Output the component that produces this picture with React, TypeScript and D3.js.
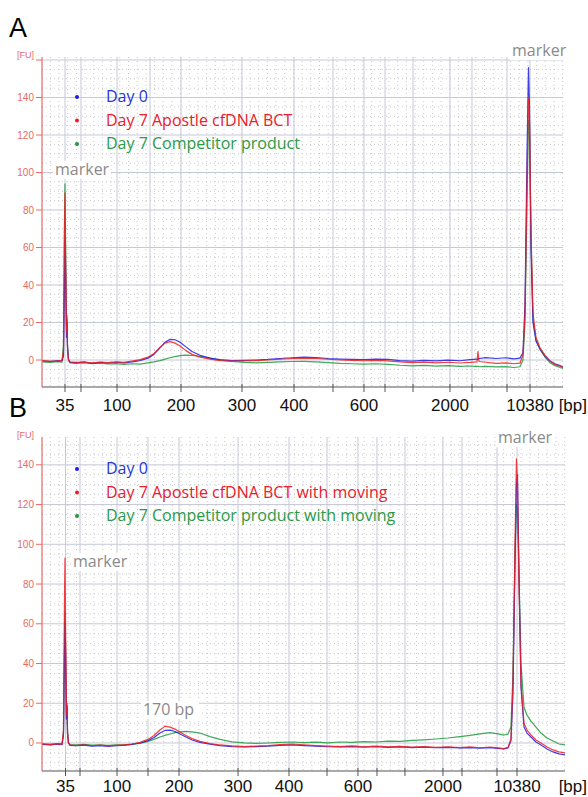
import React from "react";
import * as d3 from "d3";

// ladder sizes in bp and the migration time (s) each one ran at, per panel
const ladderBp = [35, 50, 100, 150, 200, 300, 400, 500, 600, 700, 1000, 2000, 3000, 7000, 10380];
const labeledBp = [35, 100, 200, 300, 400, 600, 2000, 10380];
const ladderTimeA = [43.31, 45.61, 50.8, 55.55, 60.01, 68.79, 76.28, 81.89, 86.35, 89.38, 93.41, 98.73, 101.9, 106.94, 110.25];
const ladderTimeB = [43.37, 45.45, 50.76, 55.2, 59.65, 68.11, 75.42, 80.87, 85.31, 88.04, 92.05, 97.5, 100.23, 105.25, 108.12];
const fuTicks = [0, 20, 40, 60, 80, 100, 120, 140, 160];

// panel A traces (time s, fluorescence FU)
const timeA = [
  40.0, 41.15, 42.3, 42.88, 43.09, 43.24, 43.31, 43.38, 43.53, 43.6, 43.67, 43.81, 44.03, 44.89, 46.05, 47.2,
  48.35, 49.5, 50.65, 51.8, 52.95, 54.11, 55.26, 56.12, 56.99, 57.71, 58.43, 59.15, 59.87, 60.73, 61.59, 62.74,
  64.18, 65.62, 67.35, 69.08, 70.81, 72.53, 74.26, 75.99, 77.72, 79.44, 81.17, 82.9, 84.62, 86.35, 88.08, 89.81,
  91.54, 93.26, 94.99, 96.72, 98.45, 100.17, 101.61, 102.62, 102.76, 102.91, 103.91, 105.35, 106.79, 107.94, 108.81,
  109.24, 109.53, 109.82, 110.03, 110.18, 110.39, 110.68, 111.11, 111.69, 112.41, 113.13, 113.85, 114.57, 115.0
];
const day0A = [
  -0.5, -0.8, -0.3, -0.5, 2, 40, 64, 50, 12, 20, 8, 0.5, -1.2, -1.5, -1.0, -1.8,
  -1.3, -1.6, -1.2, -1.5, -1.0, -0.3, 1.0, 3.0, 6.5, 9.5, 11.0, 10.8, 9.5, 7.0, 4.5, 2.5,
  1.0, 0.2, -0.3, -0.2, 0.0, 0.3, 0.8, 1.2, 1.5, 1.3, 0.8, 0.5, 0.3, 0.2, 0.5, 0.3,
  -0.3, -0.6, -0.2, -0.5, -0.1, -0.4, 0.2, 0.5, 0.3, 0.8, 1.3, 0.8, 1.2, 0.6, 1.0,
  4, 30, 110, 156, 135, 60, 20, 10, 6, 2, -0.5, -2.0, -3.0, -3.8
];
const apostleA = [
  -0.3, -0.6, -0.5, -0.2, 5, 70, 89, 60, 15, 22, 6, 0, -1.0, -1.3, -1.2, -1.5,
  -1.1, -1.4, -1.0, -1.3, -0.6, 0.2, 1.5, 3.5, 6.8, 9.0, 9.8, 9.0, 7.5, 5.0, 3.0, 1.5,
  0.5, -0.3, -0.6, -0.5, -0.3, 0.0, 0.4, 0.8, 1.0, 0.8, 0.4, 0.0, -0.2, -0.4, -0.2, -0.5,
  -1.0, -1.4, -1.1, -1.5, -1.2, -1.6, -1.3, -1.0, 4.5, -0.8, -1.2, -1.8, -1.5, -2.0, -1.7,
  3, 25, 95, 140, 128, 70, 25, 12, 6.5, 2.5, -0.5, -2.5, -3.3, -4.0
];
const competitorA = [
  -1.0, -1.3, -0.9, -1.2, 8, 75, 94, 70, 18, 24, 7, 0, -1.5, -1.8, -1.6, -2.0,
  -1.7, -2.1, -1.9, -2.3, -2.0, -2.2, -1.5, -1.0, -0.3, 0.5, 1.2, 1.8, 2.3, 2.6, 2.4, 2.0,
  1.0, 0.0, -0.8, -1.3, -1.5, -1.3, -1.0, -0.8, -0.7, -1.0, -1.4, -1.8, -2.0, -2.2, -2.0, -2.3,
  -2.8, -3.1, -2.9, -3.3, -3.0, -3.4, -3.2, -3.5, -3.3, -3.6, -3.4, -3.7, -3.5, -4.0, -3.6,
  0, 20, 85, 128, 120, 65, 22, 11, 5.5, 1.5, -1.5, -3.0, -4.0, -4.5
];

// panel B traces
const timeB = [
  40.0, 41.15, 42.29, 42.87, 43.08, 43.23, 43.3, 43.37, 43.51, 43.59, 43.66, 43.8, 44.02, 44.88, 46.02, 47.17,
  48.32, 49.46, 50.61, 51.76, 52.91, 54.05, 55.2, 56.06, 56.92, 57.64, 58.36, 59.07, 59.79, 60.65, 61.51, 62.66,
  64.09, 65.53, 67.25, 68.97, 70.69, 72.41, 74.13, 75.85, 77.57, 79.29, 81.01, 82.73, 84.45, 86.17, 87.9, 89.62,
  91.34, 93.06, 94.78, 96.5, 98.22, 99.94, 101.38, 102.81, 104.25, 105.39, 106.25, 106.82, 107.25, 107.54, 107.83,
  108.04, 108.19, 108.4, 108.69, 109.12, 109.55, 110.12, 110.84, 111.56, 112.42, 113.28, 114.14, 115.0
];
const day0B = [
  -0.7, -1.0, -0.6, -0.8, 4, 45, 61, 48, 12, 18, 5, 0, -1.2, -1.4, -1.1, -1.6,
  -1.3, -1.7, -1.4, -1.2, -0.7, 0.0, 1.2, 2.8, 5.0, 6.3, 6.5, 5.8, 4.5, 3.0, 1.5, 0.3,
  -0.6, -1.3, -1.8, -2.0, -1.8, -1.6, -1.2, -1.0, -1.3, -1.6, -1.9, -2.0, -1.8, -2.1, -1.9, -2.2,
  -2.0, -2.3, -2.1, -2.4, -2.2, -2.5, -2.3, -2.6, -2.4, -2.7, -3.0, -2.5, 1, 25, 90,
  130, 135, 85, 28, 8, 5, 3, 0.5, -1, -3, -4.5, -5.5, -6.0
];
const apostleB = [
  -0.5, -0.8, -0.4, -0.6, 6, 75, 93, 62, 14, 20, 6, 0, -1.0, -1.3, -0.9, -1.4,
  -1.1, -1.5, -1.2, -1.0, -0.5, 0.3, 1.8, 3.8, 6.5, 8.5, 8.0, 7.0, 5.5, 3.8, 2.2, 0.8,
  -0.3, -1.0, -1.5, -1.8, -1.6, -1.3, -0.8, -0.5, -0.9, -1.3, -1.6, -1.8, -1.5, -1.9, -1.6, -2.0,
  -1.7, -2.1, -1.8, -2.2, -1.9, -2.3, -2.0, -2.4, -2.1, -2.5, -2.8, -2.2, 2, 30, 100,
  143, 130, 80, 30, 10, 6.5, 4, 1.5, 0, -2, -3.5, -4.5, -5.0
];
const competitorB = [
  -0.4, -0.6, -0.3, -0.5, 5, 55, 66, 50, 13, 19, 5, 0, -0.8, -1.0, -0.7, -1.1,
  -0.9, -1.2, -1.0, -0.9, -0.6, -0.2, 0.8, 1.8, 3.0, 3.8, 4.5, 5.2, 5.6, 5.8, 5.6, 5.0,
  3.2, 1.8, 0.6, 0.1, -0.2, 0.0, 0.3, 0.5, 0.2, 0.4, 0.1, 0.5, 0.3, 0.7, 0.5, 0.9,
  0.8, 1.3, 1.6, 2.0, 2.5, 3.2, 3.8, 4.6, 5.2, 4.6, 4.0, 4.5, 8, 35, 95,
  120, 118, 85, 40, 18, 14, 11, 8, 5, 2.5, 1, -0.5, -1.0
];

const legendA = ["Day 0", "Day 7 Apostle cfDNA BCT", "Day 7 Competitor product"];
const legendB = ["Day 0", "Day 7 Apostle cfDNA BCT with moving", "Day 7 Competitor product with moving"];

const lineColors = ["#1c1ce6", "#ee1c22", "#1e9a3c"];
const textColors = ["#2436d8", "#e8202a", "#2a9a48"];
const axisRed = "#e86a66";

type Note = { text: string; t: number; fu: number };

type PanelProps = {
  letter: string;
  left: number;
  right: number;
  top: number;
  bottom: number;
  labelY: number;
  fuDomain: [number, number];
  ladderTime: number[];
  time: number[];
  values: number[][];
  legend: string[];
  legendY: number;
  notes: Note[];
};

function Panel(p: PanelProps) {
  const x = d3.scaleLinear().domain([40, 115]).range([p.left, p.right]);
  const y = d3.scaleLinear().domain(p.fuDomain).range([p.bottom, p.top]);
  const clipId = "clip" + p.letter;

  const line = d3
    .line<number>()
    .x((d, i) => x(p.time[i]))
    .y((d) => y(d));

  const minorT = d3.range(41.2, 115, 1.25);
  const minorFu = d3.range(-10, p.fuDomain[1], 5).filter((v) => v % 20 !== 0);
  const majorFu = fuTicks.filter((v) => v <= p.fuDomain[1]);

  return (
    <g>
      <text x={9} y={p.top - 20} fontFamily="Liberation Sans, Arial, sans-serif" fontSize={27}>
        {p.letter}
      </text>
      <defs>
        <clipPath id={clipId}>
          <rect x={p.left} y={p.top} width={p.right - p.left} height={p.bottom - p.top} />
        </clipPath>
      </defs>

      {/* dotted grid */}
      {minorT.map((t) => (
        <line key={"mt" + t} x1={x(t)} x2={x(t)} y1={p.top} y2={p.bottom} stroke="#cacace" strokeDasharray="1 3" />
      ))}
      {minorFu.map((v) => (
        <line key={"mf" + v} x1={p.left} x2={p.right} y1={y(v)} y2={y(v)} stroke="#cacace" strokeDasharray="1 3" />
      ))}
      {/* solid grid */}
      {p.ladderTime.map((t, i) => (
        <line key={"lt" + i} x1={x(t)} x2={x(t)} y1={p.top} y2={p.bottom} stroke="#c6c9d6" />
      ))}
      {majorFu.map((v) => (
        <line key={"gf" + v} x1={p.left} x2={p.right} y1={y(v)} y2={y(v)} stroke="#c6c9d6" />
      ))}

      {/* traces */}
      <g clipPath={`url(#${clipId})`} fill="none" strokeWidth={1.2}>
        {[2, 0, 1].map((k) => (
          <path key={k} d={line(p.values[k]) || ""} stroke={lineColors[k]} strokeOpacity={0.85} strokeLinejoin="round" />
        ))}
      </g>

      {/* legend */}
      {p.legend.map((s, i) => (
        <g key={s} transform={`translate(0,${p.legendY + i * 23.5})`}>
          <circle cx={77} cy={0} r={2} fill={lineColors[i]} />
          <text x={106} y={5} fontFamily="Open Sans, sans-serif" fontSize={16} fill={textColors[i]}>
            {s}
          </text>
        </g>
      ))}

      {/* annotations */}
      {p.notes.map((n) => (
        <g key={n.text + n.t}>
          <rect x={x(n.t) - 2} y={y(n.fu) - 14} width={n.text.length * 9 + 4} height={18} fill="#fff" />
          <text x={x(n.t)} y={y(n.fu)} fontFamily="Open Sans, sans-serif" fontSize={16} fill="#8a8a8a">
            {n.text}
          </text>
        </g>
      ))}

      {/* y axis */}
      <line x1={p.left} x2={p.left} y1={p.top} y2={p.bottom} stroke={axisRed} strokeWidth={1.2} />
      {majorFu.map((v) => (
        <g key={"yt" + v}>
          <line x1={p.left - 6} x2={p.left} y1={y(v)} y2={y(v)} stroke={axisRed} />
          {v < 160 && (
            <text x={p.left - 8} y={y(v) + 3.5} textAnchor="end" fontFamily="Liberation Sans, Arial, sans-serif" fontSize={10} fill={axisRed}>
              {v}
            </text>
          )}
        </g>
      ))}
      <text x={p.left - 8} y={p.top + 1} textAnchor="end" fontFamily="Liberation Sans, Arial, sans-serif" fontSize={9} fill={axisRed}>
        [FU]
      </text>

      {/* x axis */}
      <line x1={p.left} x2={p.right} y1={p.bottom} y2={p.bottom} stroke="#555" strokeWidth={1.2} />
      {p.ladderTime.map((t, i) => (
        <line key={"xt" + i} x1={x(t)} x2={x(t)} y1={p.bottom - 3} y2={p.bottom + 5} stroke="#555" />
      ))}
      {p.ladderTime.map((t, i) =>
        labeledBp.includes(ladderBp[i]) ? (
          <text key={"xl" + i} x={x(t)} y={p.labelY} textAnchor="middle" fontFamily="Liberation Sans, Arial, sans-serif" fontSize={17} fill="#111">
            {ladderBp[i]}
          </text>
        ) : null
      )}
      <text x={587} y={p.labelY} textAnchor="end" fontFamily="Liberation Sans, Arial, sans-serif" fontSize={17} fill="#111">
        [bp]
      </text>
    </g>
  );
}

export default function App() {
  return (
    <svg width={588} height={797} style={{ position: "absolute", left: 0, top: 0, background: "#fff" }}>
      <rect width={588} height={797} fill="#fff" />
      <Panel
        letter="A"
        left={42}
        right={563}
        top={57}
        bottom={387}
        labelY={411}
        fuDomain={[-14.4, 161.6]}
        ladderTime={ladderTimeA}
        time={timeA}
        values={[day0A, apostleA, competitorA]}
        legend={legendA}
        legendY={97}
        notes={[
          { text: "marker", t: 41.87, fu: 98.7 },
          { text: "marker", t: 107.66, fu: 162.1 },
        ]}
      />
      <Panel
        letter="B"
        left={42}
        right={565}
        top={437}
        bottom={771}
        labelY={792}
        fuDomain={[-14.1, 154.0]}
        ladderTime={ladderTimeB}
        time={timeB}
        values={[day0B, apostleB, competitorB]}
        legend={legendB}
        legendY={469}
        notes={[
          { text: "marker", t: 44.45, fu: 88.6 },
          { text: "marker", t: 105.39, fu: 150.9 },
          { text: "170 bp", t: 54.48, fu: 14.1 },
        ]}
      />
    </svg>
  );
}
